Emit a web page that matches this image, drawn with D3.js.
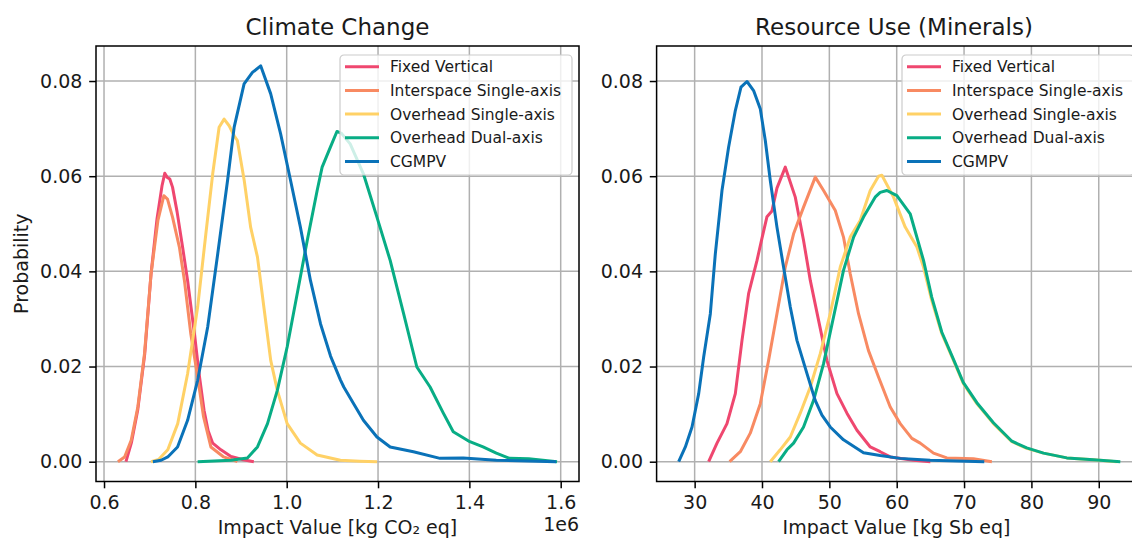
<!DOCTYPE html>
<html>
<head>
<meta charset="utf-8">
<script src="https://cdn.jsdelivr.net/npm/d3@7"></script>
<style>
  html, body { margin: 0; padding: 0; background: #fff; }
  svg { display: block; font-family: "DejaVu Sans", sans-serif; }
</style>
</head>
<body>
<svg id="chart" width="1132" height="540"></svg>
<script>
// ---------------- DATA ----------------
const seriesNames = ["Fixed Vertical", "Interspace Single-axis", "Overhead Single-axis", "Overhead Dual-axis", "CGMPV"];
const seriesColors = ["#EF476F", "#F88A62", "#FFD166", "#08AD85", "#0A72B8"];

const yTicks = [0.00, 0.02, 0.04, 0.06, 0.08];
const ccXTicks = [0.6, 0.8, 1.0, 1.2, 1.4, 1.6];
const rmXTicks = [30, 40, 50, 60, 70, 80, 90];

// Climate Change (x in units of 1e6 kg CO2 eq)
const ccFixedVertical = [[0.648,0],[0.660,0.004],[0.674,0.011],[0.689,0.0225],[0.703,0.0395],[0.716,0.051],[0.727,0.058],[0.733,0.0606],[0.738,0.0598],[0.744,0.0594],[0.750,0.0577],[0.760,0.0525],[0.772,0.0451],[0.783,0.0381],[0.798,0.0269],[0.808,0.0186],[0.819,0.0108],[0.828,0.0065],[0.838,0.0039],[0.856,0.0025],[0.878,0.0011],[0.905,0.0004],[0.928,0]];
const ccInterspace = [[0.6305,0],[0.645,0.001],[0.6595,0.0045],[0.674,0.0115],[0.6886,0.0227],[0.703,0.0395],[0.718,0.0507],[0.731,0.0559],[0.739,0.0552],[0.750,0.0514],[0.765,0.0451],[0.776,0.0381],[0.790,0.0269],[0.805,0.0178],[0.818,0.0094],[0.834,0.0031],[0.862,0.001],[0.892,0]];
const ccOverheadSingle = [[0.703,0],[0.720,0.0005],[0.7396,0.0025],[0.7614,0.008],[0.783,0.0185],[0.805,0.0325],[0.823,0.0479],[0.838,0.0605],[0.852,0.0703],[0.863,0.0720],[0.874,0.0706],[0.885,0.0685],[0.892,0.0675],[0.907,0.0591],[0.921,0.0493],[0.936,0.043],[0.950,0.0325],[0.965,0.0213],[0.9795,0.015],[1.001,0.008],[1.030,0.0039],[1.0667,0.0014],[1.1176,0.0003],[1.16,0.0001],[1.198,0]];
const ccOverheadDual = [[0.805,0],[0.878,0.0003],[0.914,0.0008],[0.936,0.0031],[0.958,0.008],[0.9795,0.015],[1.001,0.0241],[1.023,0.0353],[1.045,0.0465],[1.0667,0.057],[1.0776,0.0619],[1.0957,0.0661],[1.110,0.0694],[1.120,0.0690],[1.139,0.0668],[1.168,0.0605],[1.1976,0.0514],[1.2266,0.0423],[1.256,0.0311],[1.285,0.0199],[1.314,0.0157],[1.343,0.0102],[1.3647,0.0063],[1.401,0.0042],[1.430,0.0031],[1.459,0.0018],[1.488,0.0007],[1.53,0.0006],[1.592,0]];
const ccCGMPV = [[0.7069,0],[0.725,0.0003],[0.7396,0.001],[0.761,0.0031],[0.783,0.0087],[0.805,0.0171],[0.827,0.0283],[0.849,0.0437],[0.8705,0.0591],[0.885,0.0703],[0.9067,0.0794],[0.925,0.0818],[0.943,0.0832],[0.965,0.0773],[0.9867,0.0689],[1.0085,0.0591],[1.030,0.0493],[1.052,0.0381],[1.074,0.029],[1.096,0.0222],[1.1176,0.0172],[1.125,0.0157],[1.1466,0.0122],[1.168,0.0087],[1.1976,0.0052],[1.2266,0.0031],[1.2775,0.0021],[1.3357,0.0007],[1.3865,0.0008],[1.459,0.0003],[1.59,0]];

// Resource Use (Minerals) (x in kg Sb eq)
const rmFixedVertical = [[32.08,0],[33.32,0.0039],[34.8,0.008],[36.04,0.0143],[37.03,0.0255],[38.01,0.0353],[39.26,0.0423],[40.0,0.0470],[40.74,0.0515],[41.48,0.0527],[42.22,0.0575],[43.46,0.0619],[44.94,0.0556],[46.17,0.0465],[47.17,0.0381],[48.4,0.0297],[49.64,0.0213],[51.13,0.0143],[52.61,0.0102],[54.1,0.0066],[56.07,0.0031],[57.55,0.0021],[59.04,0.001],[62.5,0.0003],[65.0,0]];
const rmInterspace = [[35.19,0],[36.78,0.0021],[38.26,0.006],[39.75,0.0122],[40.98,0.0213],[42.22,0.0311],[43.46,0.0409],[44.69,0.0479],[46.17,0.0535],[47.91,0.0598],[49.14,0.057],[50.88,0.0528],[52.1,0.0472],[53.1,0.0395],[54.33,0.0311],[55.8,0.0234],[57.3,0.0178],[59.04,0.0115],[60.52,0.008],[62.25,0.0049],[63.49,0.0039],[65.46,0.0018],[67.45,0.0008],[71.4,0.0006],[74.13,0]];
const rmOverheadSingle = [[41.23,0],[42.7,0.0025],[44.2,0.0052],[45.68,0.0102],[47.17,0.0157],[48.65,0.0227],[50.13,0.0311],[51.62,0.0409],[53.1,0.0472],[54.58,0.0507],[56.07,0.057],[57.3,0.06],[57.8,0.0602],[59.53,0.0556],[61.26,0.0493],[63.0,0.0451],[63.98,0.0409],[65.2,0.0339],[66.7,0.0269],[68.43,0.0213],[69.9,0.0164],[71.9,0.0122],[74.36,0.008],[77.1,0.0042],[79.3,0.0028],[81.8,0.0018],[85.25,0.0008],[89.2,0.0004],[92.67,0]];
const rmOverheadDual = [[42.46,0],[43.7,0.0025],[44.69,0.0039],[46.17,0.0073],[47.66,0.0129],[49.14,0.0206],[50.62,0.0304],[52.1,0.0402],[53.6,0.0472],[55.07,0.0514],[56.8,0.0556],[57.55,0.0566],[58.54,0.057],[60.03,0.0559],[62.0,0.0521],[63.98,0.0423],[65.2,0.0346],[66.7,0.0272],[68.43,0.0215],[69.9,0.0166],[71.9,0.0124],[74.36,0.0082],[77.1,0.0043],[79.3,0.0029],[81.8,0.0018],[85.25,0.0008],[89.2,0.0004],[93.2,0]];
const rmCGMPV = [[27.63,0],[28.62,0.0031],[29.61,0.0073],[30.6,0.0143],[31.34,0.022],[32.33,0.0311],[33.07,0.0437],[34.06,0.057],[35.04,0.0661],[36.04,0.0738],[36.88,0.0787],[37.77,0.0799],[38.75,0.078],[39.75,0.0741],[40.49,0.0675],[41.23,0.0591],[42.22,0.0493],[43.2,0.0409],[44.2,0.0325],[45.19,0.0255],[46.68,0.0185],[47.9,0.0129],[48.9,0.0098],[50.13,0.0073],[52.1,0.0046],[55.07,0.0019],[57.55,0.0013],[60.5,0.0007],[64.97,0.0003],[73.0,0]];

const ccSeries = [ccFixedVertical, ccInterspace, ccOverheadSingle, ccOverheadDual, ccCGMPV];
const rmSeries = [rmFixedVertical, rmInterspace, rmOverheadSingle, rmOverheadDual, rmCGMPV];

// ---------------- DRAWING ----------------
const svg = d3.select("#chart");

const TOP = 46, BOTTOM = 481.5;
const TICK_LEN = 6.8, TICK_PAD = 6.8;

function extentWithMargin(series) {
  const xs = series.flat().map(d => d[0]);
  const lo = d3.min(xs), hi = d3.max(xs);
  const m = (hi - lo) * 0.05;
  return [lo - m, hi + m];
}
// shared y range for both panels
const yMax = d3.max(ccSeries.concat(rmSeries).flat(), d => d[1]);

function drawPanel(cfg) {
  const g = svg.append("g");
  const x = d3.scaleLinear().domain(extentWithMargin(cfg.series)).range([cfg.left, cfg.right]);
  const y = d3.scaleLinear().domain([-yMax * 0.05, yMax * 1.05]).range([BOTTOM, TOP]);

  // grid
  g.append("g").selectAll("line").data(cfg.xTicks).join("line")
    .attr("x1", d => x(d)).attr("x2", d => x(d))
    .attr("y1", TOP).attr("y2", BOTTOM)
    .attr("stroke", "#b0b0b0").attr("stroke-width", 1.5);
  g.append("g").selectAll("line").data(yTicks).join("line")
    .attr("x1", cfg.left).attr("x2", cfg.right)
    .attr("y1", d => y(d)).attr("y2", d => y(d))
    .attr("stroke", "#b0b0b0").attr("stroke-width", 1.5);

  // lines
  const line = d3.line().x(d => x(d[0])).y(d => y(d[1]));
  g.append("g").selectAll("path").data(cfg.series).join("path")
    .attr("d", line)
    .attr("fill", "none")
    .attr("stroke", (d, i) => seriesColors[i])
    .attr("stroke-width", 3)
    .attr("stroke-linejoin", "round")
    .attr("stroke-linecap", "butt");

  // axes
  const xAxis = d3.axisBottom(x).tickValues(cfg.xTicks).tickFormat(cfg.xFormat)
    .tickSize(TICK_LEN).tickSizeOuter(0).tickPadding(TICK_PAD);
  const gx = g.append("g").attr("transform", `translate(0,${BOTTOM})`).call(xAxis);
  const yAxis = d3.axisLeft(y).tickValues(yTicks).tickFormat(d3.format(".2f"))
    .tickSize(TICK_LEN).tickSizeOuter(0).tickPadding(TICK_PAD);
  const gy = g.append("g").attr("transform", `translate(${cfg.left},0)`).call(yAxis);
  [gx, gy].forEach(a => {
    a.select(".domain").remove();
    a.selectAll(".tick line").attr("stroke", "#000").attr("stroke-width", 1.5);
    a.selectAll(".tick text").attr("fill", "#1a1a1a").style("font-size", "19px")
      .style("font-family", '"DejaVu Sans", sans-serif');
  });

  // frame
  g.append("rect").attr("x", cfg.left).attr("y", TOP)
    .attr("width", cfg.right - cfg.left).attr("height", BOTTOM - TOP)
    .attr("fill", "none").attr("stroke", "#000").attr("stroke-width", 1.5);

  // title
  const cx = (cfg.left + cfg.right) / 2;
  g.append("text").attr("x", cfg.titleX || cx).attr("y", 35)
    .attr("text-anchor", "middle").style("font-size", "23px").attr("fill", "#1a1a1a")
    .text(cfg.title);
  // x label
  g.append("text").attr("x", cfg.xLabelX || cx).attr("y", 534)
    .attr("text-anchor", "middle").style("font-size", "19px").attr("fill", "#1a1a1a")
    .text(cfg.xLabel);

  // legend
  const lg = g.append("g").attr("transform", `translate(${cfg.legendX},55)`);
  lg.append("rect").attr("x", 0).attr("y", 0).attr("width", 232).attr("height", 120)
    .attr("rx", 4).attr("fill", "#fff").attr("fill-opacity", 0.8)
    .attr("stroke", "#cccccc").attr("stroke-width", 1.2);
  const items = lg.selectAll("g.item").data(seriesNames).join("g")
    .attr("class", "item")
    .attr("transform", (d, i) => `translate(0,${11.7 + i * 23.7})`);
  items.append("line").attr("x1", 5).attr("x2", 39).attr("y1", 0).attr("y2", 0)
    .attr("stroke", (d, i) => seriesColors[i]).attr("stroke-width", 3);
  items.append("text").attr("x", 50).attr("y", 0).attr("dy", "0.35em")
    .style("font-size", "15.5px").attr("fill", "#1a1a1a").text(d => d);
  return {x, y};
}

drawPanel({
  series: ccSeries, left: 96, right: 579, xTicks: ccXTicks, xFormat: d3.format(".1f"),
  title: "Climate Change", xLabel: "Impact Value [kg CO₂ eq]", legendX: 340
});
drawPanel({
  series: rmSeries, left: 656.6, right: 1142.4, xTicks: rmXTicks, xFormat: d3.format("d"),
  title: "Resource Use (Minerals)", xLabel: "Impact Value [kg Sb eq]", legendX: 902,
  titleX: 894, xLabelX: 896.5
});

// offset text and y label
svg.append("text").attr("x", 579).attr("y", 531).attr("text-anchor", "end")
  .style("font-size", "19px").attr("fill", "#1a1a1a").text("1e6");
svg.append("text").attr("transform", `translate(28,${(TOP + BOTTOM) / 2}) rotate(-90)`)
  .attr("text-anchor", "middle").style("font-size", "19px").attr("fill", "#1a1a1a")
  .text("Probability");
</script>
</body>
</html>
